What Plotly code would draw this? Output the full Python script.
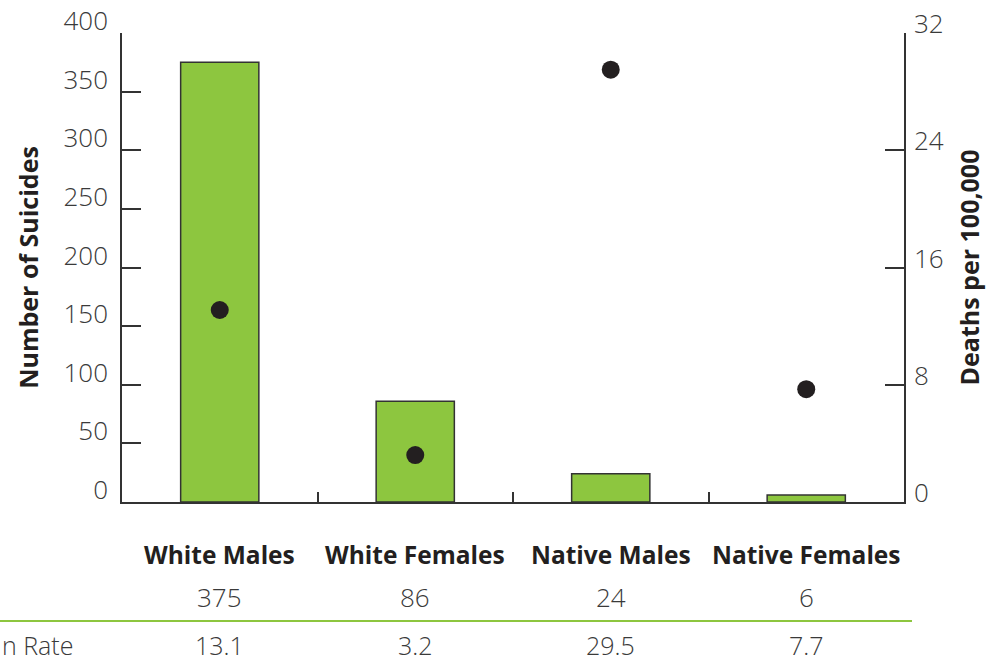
import plotly.graph_objects as go

categories = ["White Males", "White Females", "Native Males", "Native Females"]
suicides = [375, 86, 24, 6]
rates = [13.1, 3.2, 29.5, 7.7]
count_labels = ["375", "86", "24", "6"]
rate_labels = ["13.1", "3.2", "29.5", "7.7"]
rate_row_label = "n Rate"

GREEN = "#8DC63F"
DARK = "#333333"
TXT = "#3a3a3a"
FONT = "Open Sans"

fig = go.Figure()
fig.add_trace(go.Bar(
    x=categories, y=suicides, width=0.4,
    marker=dict(color=GREEN, line=dict(color=DARK, width=1.5)),
    hoverinfo="skip", showlegend=False,
))
fig.add_trace(go.Scatter(
    x=categories, y=rates, yaxis="y2", mode="markers",
    marker=dict(color="#231F20", size=18),
    showlegend=False,
))

H = 469.0
def py(pix):
    return (502 - pix) / H

annotations = []
for c, n, r in zip(categories, count_labels, rate_labels):
    annotations.append(dict(x=c, xref="x", y=py(554), yref="paper", text=c,
                            showarrow=False, xanchor="center", yanchor="middle",
                            font=dict(family=FONT, size=24.5, color="#231F20", weight="bold")))
    annotations.append(dict(x=c, xref="x", y=py(597), yref="paper", text=n,
                            showarrow=False, xanchor="center", yanchor="middle",
                            font=dict(family=FONT, size=26, color=TXT, weight=300)))
    annotations.append(dict(x=c, xref="x", y=py(645), yref="paper", text=r,
                            showarrow=False, xanchor="center", yanchor="middle",
                            font=dict(family=FONT, size=25, color=TXT, weight=300)))
annotations.append(dict(x=-122 / 782.0, xref="paper", y=py(645), yref="paper", text=rate_row_label,
                        showarrow=False, xanchor="left", yanchor="middle",
                        font=dict(family=FONT, size=25, color=TXT, weight=300)))

fig.update_layout(
    width=987, height=664,
    margin=dict(l=122, r=83, t=33, b=162, autoexpand=False),
    paper_bgcolor="white", plot_bgcolor="white",
    font=dict(family=FONT, color="#333333"),
    xaxis=dict(
        type="category", range=[-0.5, 3.5], tickson="boundaries",
        ticks="inside", ticklen=10, tickwidth=1.5, tickcolor=DARK,
        showticklabels=False, showline=True, linecolor=DARK, linewidth=1.5,
        showgrid=False, zeroline=False, automargin=False,
    ),
    yaxis=dict(
        range=[0, 400], dtick=50, ticks="inside", ticklen=19, tickwidth=1.5,
        tickcolor=DARK, showline=True, linecolor=DARK, linewidth=1.5,
        showgrid=False, zeroline=False, automargin=False,
        tickfont=dict(family=FONT, size=26, color=TXT, weight=300),
        ticklabelstandoff=7, ticklabelshift=-12,
        title=dict(text="Number of Suicides", standoff=18,
                   font=dict(family=FONT, size=25, color="#231F20", weight="bold")),
    ),
    yaxis2=dict(
        range=[0, 32], dtick=8, overlaying="y", side="right",
        ticks="inside", ticklen=19, tickwidth=1.5, tickcolor=DARK,
        showline=True, linecolor=DARK, linewidth=1.5,
        showgrid=False, zeroline=False, automargin=False,
        tickfont=dict(family=FONT, size=26, color=TXT, weight=300),
        ticklabelstandoff=3, ticklabelshift=-9,
        title=dict(text="Deaths per 100,000", standoff=19,
                   font=dict(family=FONT, size=25, color="#231F20", weight="bold")),
    ),
    annotations=annotations,
    shapes=[dict(type="line", xref="paper", yref="paper",
                 x0=-122 / 782.0, x1=(912 - 122) / 782.0, y0=py(621), y1=py(621),
                 line=dict(color=GREEN, width=2))],
)

fig.write_html("out.html", config={"displayModeBar": False},
               post_script="document.body.style.margin='0';document.body.style.padding='0';")
